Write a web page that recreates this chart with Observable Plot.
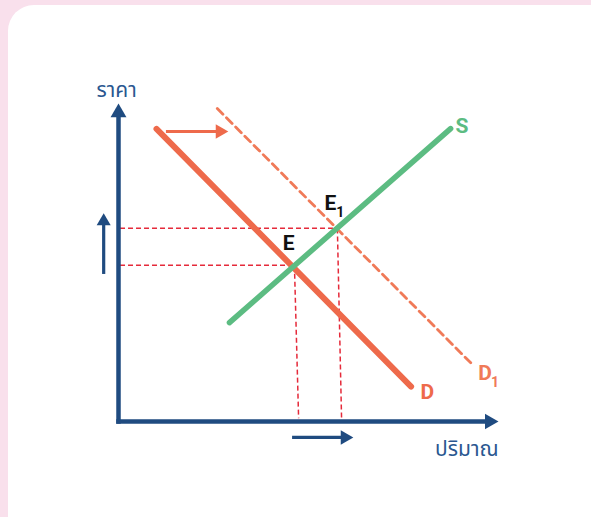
<!DOCTYPE html>
<html>
<head>
<meta charset="utf-8">
<script src="https://cdn.jsdelivr.net/npm/d3@7"></script>
<script src="https://cdn.jsdelivr.net/npm/@observablehq/plot@0.6"></script>
<style>
  html, body { margin: 0; padding: 0; }
  body { width: 591px; height: 517px; background: #f9e0ec; position: relative; overflow: hidden; }
  #card { position: absolute; left: 8px; top: 5px; width: 610px; height: 540px; background: #ffffff; border-radius: 26px; }
  #chart { position: absolute; left: 0; top: 0; }
</style>
</head>
<body>
<div id="card"></div>
<div id="chart"></div>
<script>
// Curves (quantity q, price p, in abstract units 0–100)
const demand  = [{q: 10.0, p: 92.0}, {q: 77.0, p: 11.0}];
const demand1 = [{q: 26.0, p: 98.4}, {q: 93.4, p: 17.6}];
const supply  = [{q: 29.2, p: 31.1}, {q: 87.4, p: 92.1}];

// Equilibria guide lines
const hGuides = [{q1: 0.4, q2: 46.0, p: 49.1}, {q1: 0.4, q2: 57.4, p: 60.8}];
const vGuides = [{q1: 46.3, p1: 49.0, q2: 47.4, p2: 1.0}, {q1: 57.6, p1: 60.7, q2: 58.7, p2: 1.0}];

// Axes and shift arrows (start -> tip)
const axisY = [{q1: 0, p1: 0, q2: 0, p2: 100}];
const axisX = [{q1: 0, p1: 0, q2: 100, p2: 0}];
const shiftDemand = [{q1: 12.9, p1: 91.2, q2: 28.9, p2: 91.2}];
const shiftPrice  = [{q1: -3.9, p1: 46.9, q2: -3.9, p2: 65.5}];
const shiftQty    = [{q1: 46.1, p1: -5.0, q2: 61.8, p2: -5.0}];

// Text labels
const curveLabels = [
  {q: 88.7, p: 92.8, text: "S", color: "#5cbc82"},
  {q: 79.5, p: 9.3, text: "D", color: "#ee6a4b"},
  {q: 94.7, p: 15.3, text: "D", color: "#f07a58"},
  {q: 43.2, p: 56.1, text: "E", color: "#111111"},
  {q: 54.2, p: 68.7, text: "E", color: "#111111"}
];
const subLabels = [
  {q: 98.0, p: 12.4, text: "1", color: "#f07a58"},
  {q: 57.3, p: 65.8, text: "1", color: "#111111"}
];
const priceTitle = [{q: -0.5, p: 104.1, text: "ราคา"}];
const quantityTitle = [{q: 100, p: -8.6, text: "ปริมาณ"}];

const NAVY = "#1f4b80";
const TXT = "#2a5790";
const ORANGE = "#ee6a4b";
const ORANGE2 = "#f07a58";
const GREEN = "#5cbc82";
const RED = "#e52a3a";
const THAI = "'Noto Sans Thai', Loma, Garuda, 'Noto Sans', sans-serif";
const LATIN = "Roboto, 'Liberation Sans', sans-serif";

function shaft(data, color, width, inset) {
  return Plot.arrow(data, {x1: "q1", y1: "p1", x2: "q2", y2: "p2", stroke: color, strokeWidth: width,
    headLength: 0, insetEnd: inset, strokeLinecap: "square"});
}
function head(data, color, r, dir) {
  const k = Math.sqrt(r * r * Math.PI / (3 * Math.sqrt(3))); // d3 triangle half-unit
  const opts = {x: "q2", y: "p2", symbol: "triangle", r, fill: color, stroke: "none"};
  if (dir === "up") { opts.dy = 2 * k; }
  else { opts.rotate = 90; opts.dx = -2 * k; }
  return Plot.dot(data, opts);
}

const chart = Plot.plot({
  width: 591,
  height: 517,
  marginLeft: 118,
  marginRight: 93,
  marginTop: 103,
  marginBottom: 96,
  x: {domain: [0, 100], axis: null},
  y: {domain: [0, 100], axis: null},
  style: {background: "transparent", overflow: "visible"},
  marks: [
    Plot.link(hGuides, {x1: "q1", x2: "q2", y1: "p", y2: "p", stroke: RED, strokeWidth: 1.5, strokeDasharray: "5,3"}),
    Plot.link(vGuides, {x1: "q1", y1: "p1", x2: "q2", y2: "p2", stroke: RED, strokeWidth: 1.5, strokeDasharray: "5,3"}),
    Plot.line(demand1, {x: "q", y: "p", stroke: ORANGE2, strokeWidth: 2.8, strokeDasharray: "8,5"}),
    Plot.line(demand, {x: "q", y: "p", stroke: ORANGE, strokeWidth: 6}),
    Plot.line(supply, {x: "q", y: "p", stroke: GREEN, strokeWidth: 5.5}),
    shaft(axisY, NAVY, 4.5, 9),
    shaft(axisX, NAVY, 4.5, 9),
    head(axisY, NAVY, 5.9, "up"),
    head(axisX, NAVY, 5.8, "right"),
    shaft(shiftDemand, ORANGE, 3.2, 8),
    head(shiftDemand, ORANGE, 5.4, "right"),
    shaft(shiftPrice, NAVY, 3.2, 8),
    head(shiftPrice, NAVY, 5.2, "up"),
    shaft(shiftQty, NAVY, 3.2, 8),
    head(shiftQty, NAVY, 5.4, "right"),
    Plot.text(curveLabels, {x: "q", y: "p", text: "text", fill: "color", textAnchor: "start",
      fontSize: 21, fontWeight: 700, fontFamily: LATIN}),
    Plot.text(subLabels, {x: "q", y: "p", text: "text", fill: "color", textAnchor: "start",
      fontSize: 14, fontWeight: 700, fontFamily: LATIN}),
    Plot.text(priceTitle, {x: "q", y: "p", text: "text", textAnchor: "middle", fill: TXT,
      fontSize: 21, fontFamily: THAI}),
    Plot.text(quantityTitle, {x: "q", y: "p", text: "text", textAnchor: "end", fill: TXT,
      fontSize: 21, fontFamily: THAI})
  ]
});
document.getElementById("chart").appendChild(chart);
</script>
</body>
</html>
